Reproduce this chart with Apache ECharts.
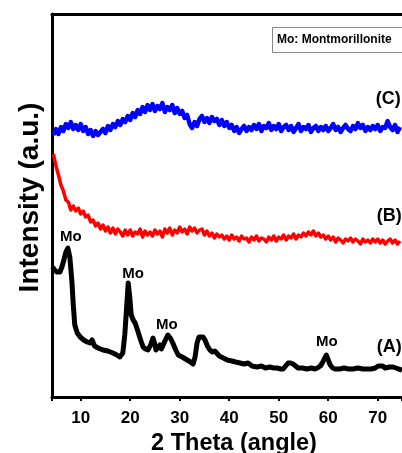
<!DOCTYPE html>
<html>
<head>
<meta charset="utf-8">
<script src="https://cdn.jsdelivr.net/npm/echarts@6/dist/echarts.min.js"></script>
<style>
  html, body { margin: 0; padding: 0; background: #fff; }
  #xrd { width: 402px; height: 453px; }
</style>
</head>
<body>
<div id="xrd"></div>
<script>
var FONT = 'Liberation Sans, Arial, sans-serif';

// (C) blue, 2theta from 4.5 to 74.5 step 0.5
var curveC = [
    262, 268, 263, 270, 266, 273, 269, 275, 268, 272,
    267, 273, 266, 270, 263, 267, 261, 266, 262, 265,
    268, 264, 271, 267, 273, 270, 276, 272, 278, 275,
    281, 277, 284, 280, 287, 283, 290, 285, 292, 287,
    293, 286, 291, 288, 294, 285, 290, 287, 292, 284,
    289, 283, 286, 279, 282, 273, 269, 275, 271, 278,
    281, 275, 279, 274, 280, 276, 278, 272, 277, 271,
    275, 269, 272, 266, 270, 264, 268, 271, 266, 270,
    267, 272, 268, 273, 266, 271, 269, 274, 267, 271,
    268, 273, 266, 270, 272, 267, 271, 265, 269, 273,
    266, 270, 268, 272, 265, 269, 271, 266, 270, 267,
    271, 266, 269, 273, 267, 270, 265, 269, 272, 268,
    266, 271, 268, 274, 269, 272, 266, 270, 267, 271,
    268, 272, 266, 270, 269, 276, 270, 267, 272, 265,
    270
];

// (B) red, same 2theta steps
var curveB = [
    243, 231, 222, 212, 206, 197, 195, 187, 191, 186,
    189, 183, 186, 180, 182, 175, 177, 171, 174, 168,
    172, 166, 170, 164, 169, 163, 168, 165, 161, 167,
    162, 167, 161, 165, 163, 168, 160, 166, 162, 165,
    161, 167, 163, 166, 160, 168, 164, 169, 162, 167,
    164, 170, 165, 168, 163, 170, 166, 169, 164, 167,
    168, 162, 166, 161, 164, 159, 163, 160, 162, 158,
    161, 157, 162, 158, 160, 156, 161, 158, 159, 155,
    160, 157, 161, 156, 159, 158, 155, 160, 157, 161,
    156, 160, 158, 162, 157, 161, 159, 163, 158, 162,
    160, 164, 161, 165, 162, 166, 161, 164, 160, 162,
    158, 161, 157, 160, 155, 159, 157, 154, 158, 156,
    159, 155, 158, 156, 153, 158, 155, 157, 154, 158,
    155, 158, 154, 157, 153, 156, 158, 154, 157, 153,
    156
];

// (A) black, measured points
var thetaA = [4.3, 4.7, 5.2, 5.8, 6.2, 6.6, 7.0, 7.4, 7.8, 8.2, 8.5, 8.8, 9.3, 9.9, 10.6, 11.3, 11.9, 12.3, 12.5, 12.8,
    13.5, 14.5, 15.5, 16.5, 17.3, 17.9, 18.5, 18.9, 19.2, 19.6, 19.9, 20.2, 20.6, 21.0, 21.6, 22.1, 22.6, 23.1, 23.6, 24.2,
    24.6, 24.9, 25.2, 25.6, 26.0, 26.3, 26.6, 27.1, 27.6, 28.1, 28.6, 29.2, 29.7, 30.5, 31.5, 32.2, 32.7, 33.1, 33.5, 33.9,
    34.3, 34.7, 35.1, 35.6, 36.1, 36.6, 37.1, 37.5, 38.0, 38.8, 39.6, 40.5, 41.3, 42.2, 43.0, 43.8, 44.6, 45.6, 46.5, 47.3,
    48.2, 49.0, 49.7, 50.4, 50.9, 51.4, 51.9, 52.4, 52.9, 53.4, 53.9, 54.8, 55.7, 56.6, 57.3, 57.8, 58.4, 58.8, 59.2, 59.6,
    60.0, 60.4, 60.9, 61.4, 62.3, 63.2, 64.1, 65.0, 66.0, 67.0, 67.9, 68.7, 69.5, 70.1, 70.5, 71.0, 71.5, 71.9, 72.4, 73.1,
    73.7, 74.2, 74.9];
var curveA = [130, 127, 125, 125, 130, 137, 145, 149, 140, 117, 92, 72, 64, 60, 57, 55, 54, 57, 59, 51,
    49, 47, 46, 44, 42, 40, 44, 62, 84, 114, 100, 82, 77, 74, 65, 57, 50, 48, 47, 53,
    59, 54, 47, 49, 52, 48, 50, 57, 62, 59, 54, 47, 42, 40, 37, 35, 33, 40, 54, 60,
    62, 60, 57, 51, 47, 45, 46, 44, 41, 39, 37, 36, 35, 34, 33, 34, 31, 30, 31, 29,
    30, 29, 29, 28, 28, 31, 34, 34, 33, 31, 29, 29, 28, 29, 28, 29, 31, 34, 38, 42,
    37, 32, 29, 28, 28, 29, 28, 28, 29, 28, 28, 28, 29, 31, 30, 31, 29, 29, 30, 30,
    29, 28, 27];

var xTicks = [10, 20, 30, 40, 50, 60, 70];

// annotations [2theta, intensity, text, size]
var notes = [
    [8.0, 160, 'Mo', 15],
    [20.6, 123, 'Mo', 15],
    [27.4, 72, 'Mo', 15],
    [59.7, 55, 'Mo', 15],
    [72.3, 50, '(A)', 18],
    [72.3, 181, '(B)', 18],
    [72.1, 298, '(C)', 18]
];

function pairs(xs, ys) {
    var out = [];
    for (var i = 0; i < ys.length; i++) out.push([xs[i], ys[i]]);
    return out;
}
var thetaStep = [];
for (var i = 0; i < curveC.length; i++) thetaStep.push(4.5 + i * 0.5);

var chart = echarts.init(document.getElementById('xrd'));

var boxGraphic = [
    {
        type: 'rect',
        shape: { x: 272.5, y: 27.5, width: 140, height: 25 },
        style: { fill: '#fff', stroke: '#888', lineWidth: 1 },
        z: 10
    },
    {
        type: 'text',
        x: 277,
        y: 40,
        style: { text: 'Mo: Montmorillonite', fill: '#000', font: 'bold 12px ' + FONT, verticalAlign: 'middle' },
        z: 11
    }
];

var option = {
    animation: false,
    backgroundColor: '#fff',
    grid: { left: 52, top: 14, right: 0, bottom: 56, outerBoundsMode: 'none', containLabel: false },
    xAxis: [
        {
            type: 'value',
            min: 4.2,
            max: 74.9,
            splitLine: { show: false },
            axisLine: { lineStyle: { color: '#000', width: 3 } },
            axisTick: { inside: false, length: 4, lineStyle: { color: '#000', width: 2 } },
            minorTick: { show: true, splitNumber: 10, length: 2, lineStyle: { color: '#000', width: 1.2 } },
            axisLabel: {
                showMinLabel: false,
                showMaxLabel: false,
                margin: 13,
                color: '#000',
                fontFamily: FONT,
                fontWeight: 'bold',
                fontSize: 17,
                formatter: function (v) { return xTicks.indexOf(v) >= 0 ? String(v) : ''; }
            },
            name: '2 Theta (angle)',
            nameLocation: 'middle',
            nameGap: 34,
            nameTextStyle: { color: '#000', fontFamily: FONT, fontWeight: 'bold', fontSize: 23.5, padding: [0, 0, 0, 14] }
        },
        {
            type: 'value',
            position: 'top',
            min: 4.2,
            max: 74.9,
            splitLine: { show: false },
            axisLine: { show: true, lineStyle: { color: '#000', width: 3 } },
            axisTick: { show: false },
            axisLabel: { show: false }
        }
    ],
    yAxis: {
        type: 'value',
        min: 0,
        max: 383,
        splitLine: { show: false },
        axisTick: { show: false },
        axisLabel: { show: false },
        axisLine: { show: true, lineStyle: { color: '#000', width: 3 } },
        name: 'Intensity (a.u.)',
        nameLocation: 'middle',
        nameRotate: 90,
        nameGap: 8,
        nameTextStyle: { color: '#000', fontFamily: FONT, fontWeight: 'bold', fontSize: 28, padding: [0, 0, 0, 16] }
    },
    graphic: boxGraphic,
    series: [
        {
            name: '(C)',
            type: 'line',
            showSymbol: false,
            data: pairs(thetaStep, curveC),
            lineStyle: { color: '#0000ff', width: 4.5, join: 'round' }
        },
        {
            name: '(B)',
            type: 'line',
            showSymbol: false,
            data: pairs(thetaStep, curveB),
            lineStyle: { color: '#ff0000', width: 3.5, join: 'round' }
        },
        {
            name: '(A)',
            type: 'line',
            showSymbol: false,
            data: pairs(thetaA, curveA),
            lineStyle: { color: '#000', width: 5, join: 'round' }
        }
    ]
};

chart.setOption(option);

// place the peak / curve labels in data coordinates
var noteGraphic = notes.map(function (n) {
    var p = chart.convertToPixel({ xAxisIndex: 0, yAxisIndex: 0 }, [n[0], n[1]]);
    return {
        type: 'text',
        x: p[0],
        y: p[1],
        style: { text: n[2], fill: '#000', font: 'bold ' + n[3] + 'px ' + FONT, align: 'center', verticalAlign: 'middle' },
        z: 12
    };
});
chart.setOption({ graphic: boxGraphic.concat(noteGraphic) });
</script>
</body>
</html>
